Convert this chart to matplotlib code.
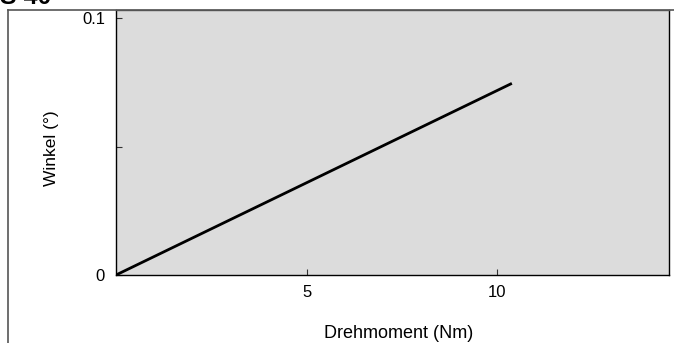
import matplotlib
matplotlib.use('Agg')
import matplotlib.pyplot as plt
from matplotlib.lines import Line2D

# data: straight line from origin
torque = [0.0, 10.38]          # Nm
angle = [0.0, 0.0747]          # degrees
xticks = [5, 10]
xticklabels = ['5', '10']
yticks = [0, 0.05, 0.1]
yticklabels = ['0', '', '0.1']

plt.rcParams['font.family'] = ['Liberation Sans', 'DejaVu Sans']

fig = plt.figure(figsize=(6.74, 3.43), dpi=100)
ax = fig.add_axes([116/674, 1 - 275/343, 553/674, 265/343])
ax.set_facecolor('#dcdcdc')
ax.plot(torque, angle, color='black', lw=2, solid_capstyle='butt')

ax.set_xlim(0, 14.5)
ax.set_ylim(0, 0.1033)
ax.set_xticks(xticks)
ax.set_xticklabels(xticklabels)
ax.set_yticks(yticks)
ax.set_yticklabels(yticklabels)
ax.tick_params(direction='in', length=4, width=0.8, labelsize=12, color='#333')
ax.tick_params(axis='y', pad=8)
ax.tick_params(axis='x', pad=7)
for s in ax.spines.values():
    s.set_color('black'); s.set_linewidth(1)
ax.spines['top'].set_color('#555')

ax.set_xlabel('Drehmoment (Nm)', fontsize=13)
ax.xaxis.label.set_va('baseline')
ax.xaxis.set_label_coords(0.511, -0.2366)
ax.set_ylabel('Winkel (°)', fontsize=12.5)
ax.yaxis.set_label_coords(-0.103, 0.478)

# outer frame (left + top edges, rest cropped away)
fig.add_artist(Line2D([8/674, 8/674], [0, 1 - 10/343], transform=fig.transFigure, color='#555', lw=1.2))
fig.add_artist(Line2D([8/674, 1], [1 - 10/343, 1 - 10/343], transform=fig.transFigure, color='#555', lw=1.2))

# partially cropped figure code at the very top
fig.text(0.0, 1 - 4/343, 'S 40', fontsize=18, fontweight='bold', va='baseline', ha='left')

fig.savefig('out.png', dpi=100, facecolor='white')
